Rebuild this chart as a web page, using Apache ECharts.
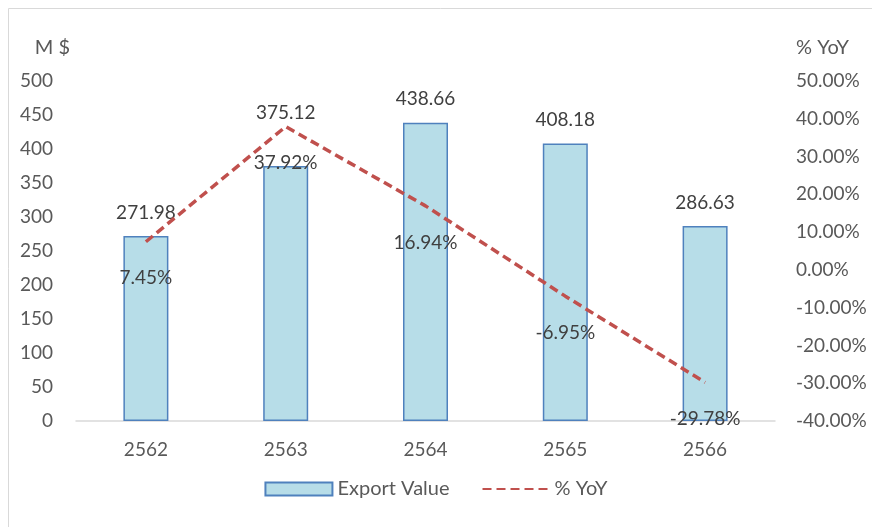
<!DOCTYPE html>
<html>
<head>
<meta charset="utf-8">
<script src="https://cdn.jsdelivr.net/npm/echarts@6/dist/echarts.min.js"></script>
<style>
  html, body { margin: 0; padding: 0; background: #fff; }
  #chart { width: 872px; height: 527px; }
</style>
</head>
<body>
<div id="chart"></div>
<script>
var years = ['2562', '2563', '2564', '2565', '2566']
var exportValue = [271.98, 375.12, 438.66, 408.18, 286.63]
var yoy = [7.45, 37.92, 16.94, -6.95, -29.78]

var textColor = '#595959'
var labelColor = '#404040'
var fontFamily = 'Lato, "Noto Sans", sans-serif'

var chart = echarts.init(document.getElementById('chart'))

var barData = exportValue.map(function (v, i) {
  // Excel label for 2563 was dragged up above the line
  if (i === 1) {
    return { value: v, label: { offset: [0, -30] } }
  }
  return v
})

chart.setOption({
  animation: false,
  textStyle: { fontFamily: fontFamily },
  graphic: [{
    type: 'rect',
    shape: { x: 8.5, y: 8.5, width: 880, height: 540 },
    style: { fill: 'none', stroke: '#d9d9d9', lineWidth: 1 },
    silent: true
  }],
  grid: {
    left: 76,
    right: 97,
    top: 81,
    bottom: 106
  },
  legend: {
    bottom: 23,
    left: 'center',
    itemWidth: 67,
    itemHeight: 13,
    itemGap: 32,
    textStyle: { color: textColor, fontSize: 20, fontFamily: fontFamily },
    data: [
      { name: 'Export Value', icon: 'rect' },
      { name: '% YoY' }
    ]
  },
  xAxis: {
    type: 'category',
    data: years,
    axisLine: { lineStyle: { color: '#d9d9d9', width: 1.5 } },
    axisTick: { show: false },
    axisLabel: { color: textColor, fontSize: 19, margin: 19 }
  },
  yAxis: [{
    type: 'value',
    name: 'M $',
    nameLocation: 'end',
    nameGap: 23,
    nameTextStyle: { color: textColor, fontSize: 20, align: 'right', padding: [0, 6, 0, 0] },
    min: 0,
    max: 500,
    interval: 50,
    splitLine: { show: false },
    axisLine: { show: false },
    axisTick: { show: false },
    axisLabel: { color: textColor, fontSize: 19, margin: 23 }
  }, {
    type: 'value',
    name: '% YoY',
    nameLocation: 'end',
    nameGap: 23,
    nameTextStyle: { color: textColor, fontSize: 20, align: 'left', padding: [0, 0, 0, 21] },
    min: -40,
    max: 50,
    interval: 10,
    splitLine: { show: false },
    axisLine: { show: false },
    axisTick: { show: false },
    axisLabel: {
      color: textColor,
      fontSize: 19,
      margin: 21,
      formatter: function (v) { return v.toFixed(2) + '%' }
    }
  }],
  series: [{
    name: 'Export Value',
    type: 'bar',
    data: barData,
    barWidth: 45,
    itemStyle: { color: '#b7dde8', borderColor: '#4f81bd', borderWidth: 1.5 },
    label: {
      show: true,
      position: 'top',
      distance: 14,
      color: labelColor,
      fontSize: 19,
      formatter: function (p) { return p.value.toFixed(2) }
    }
  }, {
    name: '% YoY',
    type: 'line',
    yAxisIndex: 1,
    data: yoy,
    symbol: 'circle',
    symbolSize: 2,
    showSymbol: true,
    z: 3,
    itemStyle: { color: 'rgba(0,0,0,0)' },
    lineStyle: { color: '#c0504d', width: 3.5, type: [9, 5] },
    label: {
      show: true,
      position: 'bottom',
      distance: 26,
      color: labelColor,
      fontSize: 19,
      formatter: function (p) { return p.value.toFixed(2) + '%' }
    }
  }]
})
</script>
</body>
</html>
